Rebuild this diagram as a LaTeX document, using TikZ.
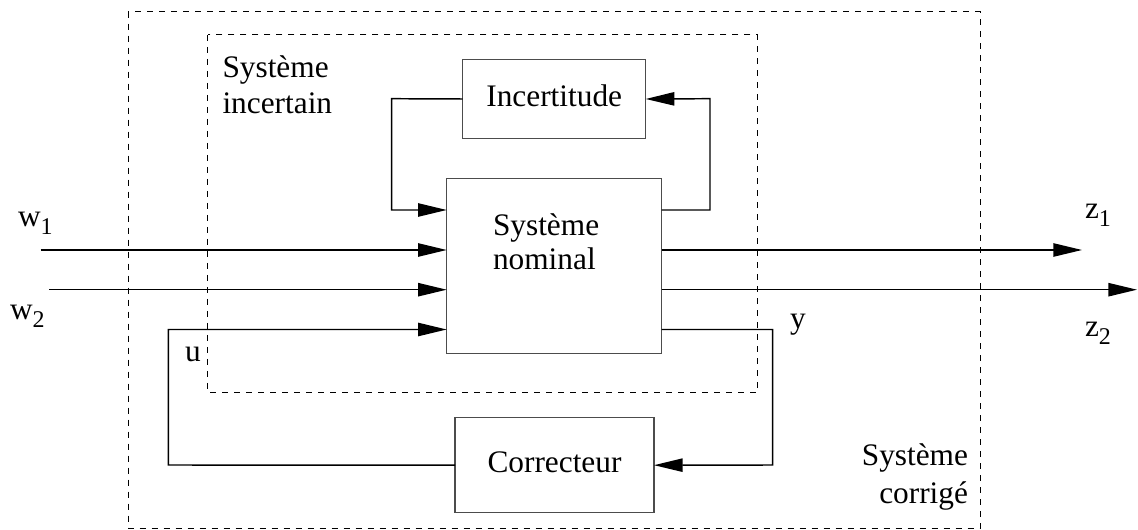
\documentclass[tikz,border=0pt]{standalone}
\usepackage{fontspec}
\setmainfont{Liberation Serif}
\usetikzlibrary{arrows.meta}
\begin{document}
\begin{tikzpicture}[x=0.75pt,y=-0.75pt,
  every node/.style={inner sep=0pt,outer sep=0pt,font=\fontsize{23.5}{25}\selectfont},
  blk/.style={draw=black!70,line width=0.8pt},
  conn/.style={line width=1.1pt,black},
  tip/.style={-{Triangle[length=21.5pt,width=10pt]}},
  frame/.style={line width=0.75pt,dash pattern=on 4.5pt off 4.5pt},
  lbl/.style={anchor=base west}]
\newcommand{\subd}[1]{\raisebox{-5.8pt}{\fontsize{18}{18}\selectfont #1}}
\useasboundingbox (0,0) rectangle (1138,530);
% frames
\draw[frame] (128.3,11.7) rectangle (980,528.3);
\draw[frame] (207.7,35) rectangle (757.3,392.7);
% blocks
\node[blk,minimum width=137.25pt,minimum height=59.5pt,text height=11.6pt,text depth=0pt] (inc) at (554.2,99) {Incertitude};
\node[blk,minimum width=161.25pt,minimum height=131.25pt] (nom) at (554.2,265.8) {};
\node[blk,minimum width=149.25pt,minimum height=71.25pt,text height=10.2pt,text depth=0pt] (cor) at (554.5,465.2) {Correcteur};
% texts
\node[lbl] (tinc) at (222.5,77.3) {\vtop{\baselineskip=27.5pt\hbox{Système}\hbox{incertain}}};
\node[lbl] (tnom) at (493,236) {\vtop{\baselineskip=25.5pt\hbox{Système}\hbox{nominal}}};
\node[anchor=base east] (tcor) at (968,465) {\vtop{\baselineskip=28.5pt\halign{\hfil#\cr Système\cr corrigé\cr}}};
\node[lbl] (lw1) at (18,227) {w\subd{1}};
\node[lbl] (lw2) at (10,320) {w\subd{2}};
\node[lbl] (lz1) at (1085,218.3) {z\subd{1}};
\node[lbl] (lz2) at (1085,337) {z\subd{2}};
\node[lbl] (lu) at (185,361.7) {u};
\node[lbl] (ly) at (790,329) {y};
% coordinates
\coordinate (la) at (391.7,98.7);
\coordinate (lb) at (391.7,210);
\coordinate (ra) at (710,210);
\coordinate (rb) at (710,98.7);
\coordinate (w1s) at (40.7,250);
\coordinate (w2s) at (49,289.7);
\coordinate (ua) at (168.3,465);
\coordinate (ub) at (168.3,329.5);
\coordinate (ya) at (772.7,329.5);
\coordinate (yb) at (772.7,465);
\coordinate (z1e) at (1082,250);
\coordinate (z2e) at (1137,289.7);
% connectors
\draw[conn,tip] (inc.west) -- (la) -- (lb) -- (lb -| nom.west);
\draw[conn,tip] (ra -| nom.east) -- (ra) -- (rb) -- (inc.east);
\draw[conn,tip] (w1s) -- (w1s -| nom.west);
\draw[conn,tip] (w2s) -- (w2s -| nom.west);
\draw[conn,tip] (cor.west) -- (ua) -- (ub) -- (ub -| nom.west);
\draw[conn,tip] (ya -| nom.east) -- (ya) -- (yb) -- (cor.east);
\draw[conn,tip] (z1e -| nom.east) -- (z1e);
\draw[conn,tip] (z2e -| nom.east) -- (z2e);
\end{tikzpicture}
\end{document}
